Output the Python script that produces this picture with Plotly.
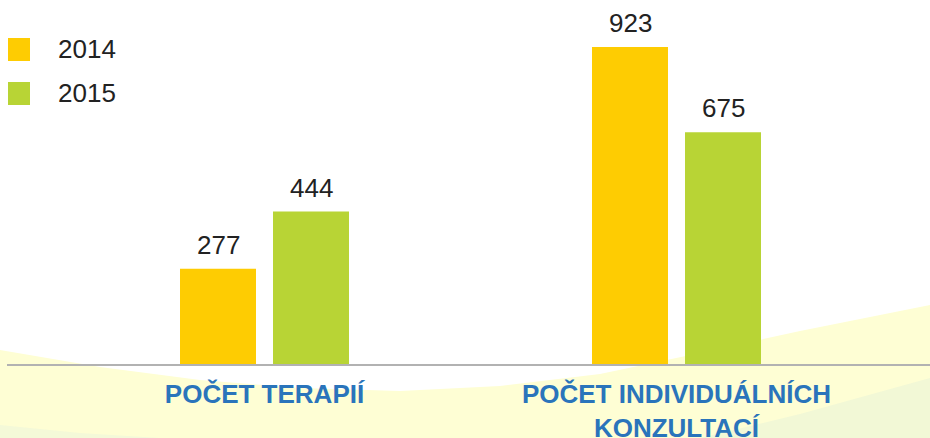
import plotly.graph_objects as go

# ---- data ----
categories = ["POČET TERAPIÍ", "POČET INDIVIDUÁLNÍCH<br>KONZULTACÍ"]
series_names = ["2014", "2015"]
values_2014 = [277, 923]
values_2015 = [444, 675]
series_values = [values_2014, values_2015]
colors = ["#FECC02", "#B8D435"]

W, H = 930, 438
ML, MR, MT, MB = 7, 0, 0, 74
BARGAP = 0.5485
BARGROUPGAP = 0.183

fig = go.Figure()
for name, vals, col in zip(series_names, series_values, colors):
    fig.add_trace(go.Bar(x=categories, y=vals, name=name, marker_color=col,
                         marker_line_width=0, showlegend=False, hoverinfo="skip"))

# ---- helpers for decorative pixel -> paper conversion ----
pw = W - ML - MR
ph = H - MT - MB
def px(x):
    return (x - ML) / pw
def py(y):
    return (H - MB - y) / ph

def path_from(points):
    s = "M {:.4f},{:.4f}".format(px(points[0][0]), py(points[0][1]))
    for (x, y) in points[1:]:
        s += " L {:.4f},{:.4f}".format(px(x), py(y))
    return s + " Z"

shapes = []
waveA = [(0, 350), (100, 367), (200, 380), (300, 388), (400, 391), (500, 386),
         (600, 374), (700, 353), (800, 331), (930, 305), (930, 438), (0, 438)]
waveB = [(700, 438), (800, 414), (930, 378), (930, 438)]
waveC = [(0, 425), (80, 433), (160, 438), (0, 438)]
shapes.append(dict(type="path", xref="paper", yref="paper", path=path_from(waveA),
                   fillcolor="#FEFED4", line_width=0, layer="below"))
shapes.append(dict(type="path", xref="paper", yref="paper", path=path_from(waveB),
                   fillcolor="#F2F8D6", line_width=0, layer="below"))
shapes.append(dict(type="path", xref="paper", yref="paper", path=path_from(waveC),
                   fillcolor="#F4F9D8", line_width=0, layer="below"))

annotations = []
# manual legend
for i, (name, col) in enumerate(zip(series_names, colors)):
    top = 38 + i * 44
    shapes.append(dict(type="rect", xref="paper", yref="paper",
                       x0=px(8), x1=px(30), y0=py(top), y1=py(top + 23),
                       fillcolor=col, line_width=0))
    annotations.append(dict(xref="paper", yref="paper", x=px(56), y=py(top + 11.5),
                            xanchor="left", yanchor="middle", text=name, showarrow=False,
                            font=dict(family="Liberation Sans, Arial", size=26, color="#222222")))

# value labels above bars
slot = (1 - BARGAP) / 2
offsets = [-slot / 2, slot / 2]
for off, vals in zip(offsets, series_values):
    for ci, v in enumerate(vals):
        annotations.append(dict(x=ci + off, y=v, xref="x", yref="y", text=str(v),
                                showarrow=False, yanchor="middle", yshift=24,
                                font=dict(family="Liberation Sans, Arial", size=26, color="#222222")))

slope_px = 412
x_lo = -(264.5 - ML) / slope_px
x_hi = (W - MR - 264.5) / slope_px
y_hi = ph / (317.0 / 923)

fig.update_layout(
    width=W, height=H,
    margin=dict(l=ML, r=MR, t=MT, b=MB),
    paper_bgcolor="white", plot_bgcolor="rgba(0,0,0,0)",
    barmode="group", bargap=BARGAP, bargroupgap=BARGROUPGAP,
    showlegend=False,
    shapes=shapes, annotations=annotations,
    xaxis=dict(type="category", range=[x_lo, x_hi], showline=True, linecolor="#B2B2B2",
               linewidth=2, ticks="", showgrid=False, zeroline=False, ticklabelstandoff=6,
               automargin=False,
               tickfont=dict(family="Liberation Sans, Arial", size=26, color="#2A74BB", weight="bold")),
    yaxis=dict(range=[0, y_hi], visible=False, showgrid=False, zeroline=False, automargin=False),
)

fig.write_html("out.html", config={"displayModeBar": False},
               post_script="document.body.style.margin='0';document.body.style.overflow='hidden';")
